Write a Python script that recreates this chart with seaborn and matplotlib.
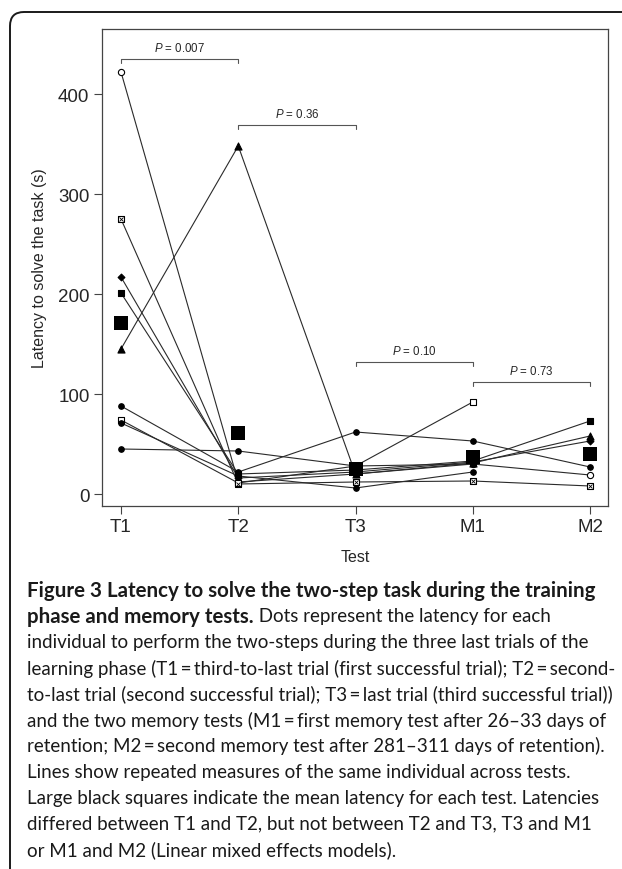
import numpy as np
import pandas as pd
import matplotlib
matplotlib.use('Agg')
import matplotlib.pyplot as plt
import seaborn as sns
from matplotlib.patches import FancyBboxPatch
from matplotlib.transforms import IdentityTransform

# latency (s) per individual at each test
tests = ['T1', 'T2', 'T3', 'M1', 'M2']
open_circle = [422, 12, 20, 30, 19]
crossed_square = [275, 10, 12, 13, 8]
diamond = [217, 16, 22, 32, 53]
filled_square = [201, 20, 24, 33, 73]
triangle = [145, 348, 20, 31, 58]
circle_a = [88, 22, 62, 53, 27]
open_square = [74, 11, 28, 92, np.nan]
circle_b = [71, 18, 6, 22, np.nan]
circle_c = [45, 43, 28, 30, np.nan]
mean_latency = [171, 61, 25, 37, 40]

p_from = ['T1', 'T2', 'T3', 'M1']
p_to = ['T2', 'T3', 'M1', 'M2']
p_values = ['0.007', '0.36', '0.10', '0.73']
p_heights = [435, 369, 132, 112]

ts = '\u2009'  # thin space around "="
caption_bold = ['Figure 3 Latency to solve the two-step task during the training',
                'phase and memory tests.']
caption_rest = [' Dots represent the latency for each',
                'individual to perform the two-steps during the three last trials of the',
                f'learning phase (T1{ts}={ts}third-to-last trial (first successful trial); T2{ts}={ts}second-',
                f'to-last trial (second successful trial); T3{ts}={ts}last trial (third successful trial))',
                f'and the two memory tests (M1{ts}={ts}first memory test after 26\u201333 days of',
                f'retention; M2{ts}={ts}second memory test after 281\u2013311 days of retention).',
                'Lines show repeated measures of the same individual across tests.',
                'Large black squares indicate the mean latency for each test. Latencies',
                'differed between T1 and T2, but not between T2 and T3, T3 and M1',
                'or M1 and M2 (Linear mixed effects models).']

individuals = {
    'open_circle': open_circle, 'crossed_square': crossed_square, 'diamond': diamond,
    'filled_square': filled_square, 'triangle': triangle, 'circle_a': circle_a,
    'open_square': open_square, 'circle_b': circle_b, 'circle_c': circle_c,
}
# marker, face colour, size
marker_style = {
    'open_circle': ('o', 'white', 20), 'crossed_square': ('s', 'white', 20),
    'diamond': ('D', 'black', 12), 'filled_square': ('s', 'black', 16),
    'triangle': ('^', 'black', 26), 'circle_a': ('o', 'black', 16),
    'open_square': ('s', 'white', 20), 'circle_b': ('o', 'black', 16),
    'circle_c': ('o', 'black', 16),
}

rows = []
for name, vals in individuals.items():
    for i, v in enumerate(vals):
        rows.append({'ind': name, 'test': tests[i], 'pos': i, 'latency': v})
df = pd.DataFrame(rows).dropna()
means_df = pd.DataFrame({'test': tests, 'pos': range(len(tests)), 'latency': mean_latency})

sns.set_style('ticks')
plt.rcParams['font.family'] = ['Liberation Sans', 'DejaVu Sans']
plt.rcParams['mathtext.fontset'] = 'custom'
plt.rcParams['mathtext.it'] = 'Liberation Sans:italic'
plt.rcParams['mathtext.rm'] = 'Liberation Sans'

W, H = 622, 870
fig = plt.figure(figsize=(W / 100, H / 100), dpi=100)
ax = fig.add_axes([102 / W, 1 - 507 / H, (608 - 102) / W, (507 - 30) / H])

sns.lineplot(data=df, x='pos', y='latency', units='ind', estimator=None,
             color='#2a2a2a', lw=0.8, ax=ax, legend=False)
for name in individuals:
    sub = df[df['ind'] == name]
    mk, fc, sz = marker_style[name]
    sns.scatterplot(data=sub, x='pos', y='latency', marker=mk, s=sz, color=fc,
                    edgecolor='black', linewidth=0.8, zorder=3, ax=ax, legend=False)
    if name == 'crossed_square':
        sns.scatterplot(data=sub, x='pos', y='latency', marker='x', s=8, color='black',
                        linewidth=0.6, zorder=4, ax=ax, legend=False)
sns.scatterplot(data=means_df, x='pos', y='latency', marker='s', s=92, color='black',
                edgecolor='black', linewidth=0, zorder=5, ax=ax, legend=False)

# significance brackets
for a, b, p, h in zip(p_from, p_to, p_values, p_heights):
    x0, x1 = tests.index(a), tests.index(b)
    ax.plot([x0, x0, x1, x1], [h - 4, h, h, h - 4], color='#555555', lw=0.8)
    ax.text((x0 + x1) / 2, h + 5, r'$P$ = ' + p, ha='center', va='bottom', fontsize=8.3)

ax.set_xlim(-0.162, 4.153)
ax.set_ylim(-12, 465)
ax.set_xticks(range(len(tests)))
ax.set_xticklabels(tests)
ax.set_yticks([0, 100, 200, 300, 400])
ax.tick_params(direction='out', length=6, width=0.8, color='#444444', labelsize=13.5, pad=3)
for sp in ax.spines.values():
    sp.set_visible(True)
    sp.set_color('#444444')
    sp.set_linewidth(0.9)
ax.set_xlabel('Test', fontsize=11.5, labelpad=10)
ax.set_ylabel('Latency to solve the task (s)', fontsize=11.5, labelpad=8)

# outer frame with rounded corner
frame = FancyBboxPatch((10, -30), 700, H - 13 + 30, boxstyle='round,pad=0,rounding_size=14',
                       transform=IdentityTransform(), fill=False, ec='#1a1a1a', lw=1.4)
fig.add_artist(frame)

# caption, sized to the reference line widths
renderer = fig.canvas.get_renderer()
cap_font = ['Lato', 'DejaVu Sans']
probe = fig.text(0, 0, caption_bold[0], family=cap_font, weight='bold', fontsize=14)
bold_size = 14 * 573 / probe.get_window_extent(renderer).width
probe.remove()
probe = fig.text(0, 0, caption_rest[5], family=cap_font, fontsize=14)
reg_size = 14 * 578 / probe.get_window_extent(renderer).width
probe.remove()

x0, y0, step = 27, 591, 25.9
fig.text(x0 / W, 1 - y0 / H, caption_bold[0], family=cap_font, weight='bold',
         fontsize=bold_size, va='center', color='#1a1a1a')
t = fig.text(x0 / W, 1 - (y0 + step) / H, caption_bold[1], family=cap_font, weight='bold',
             fontsize=bold_size, va='center', color='#1a1a1a')
bw = t.get_window_extent(renderer).width
fig.text((x0 + bw) / W, 1 - (y0 + step) / H, caption_rest[0], family=cap_font,
         fontsize=reg_size, va='center', color='#1a1a1a')
for i, line in enumerate(caption_rest[1:]):
    fig.text(x0 / W, 1 - (y0 + step * (i + 2)) / H, line, family=cap_font,
             fontsize=reg_size, va='center', color='#1a1a1a')

fig.savefig('out.png', dpi=100)
